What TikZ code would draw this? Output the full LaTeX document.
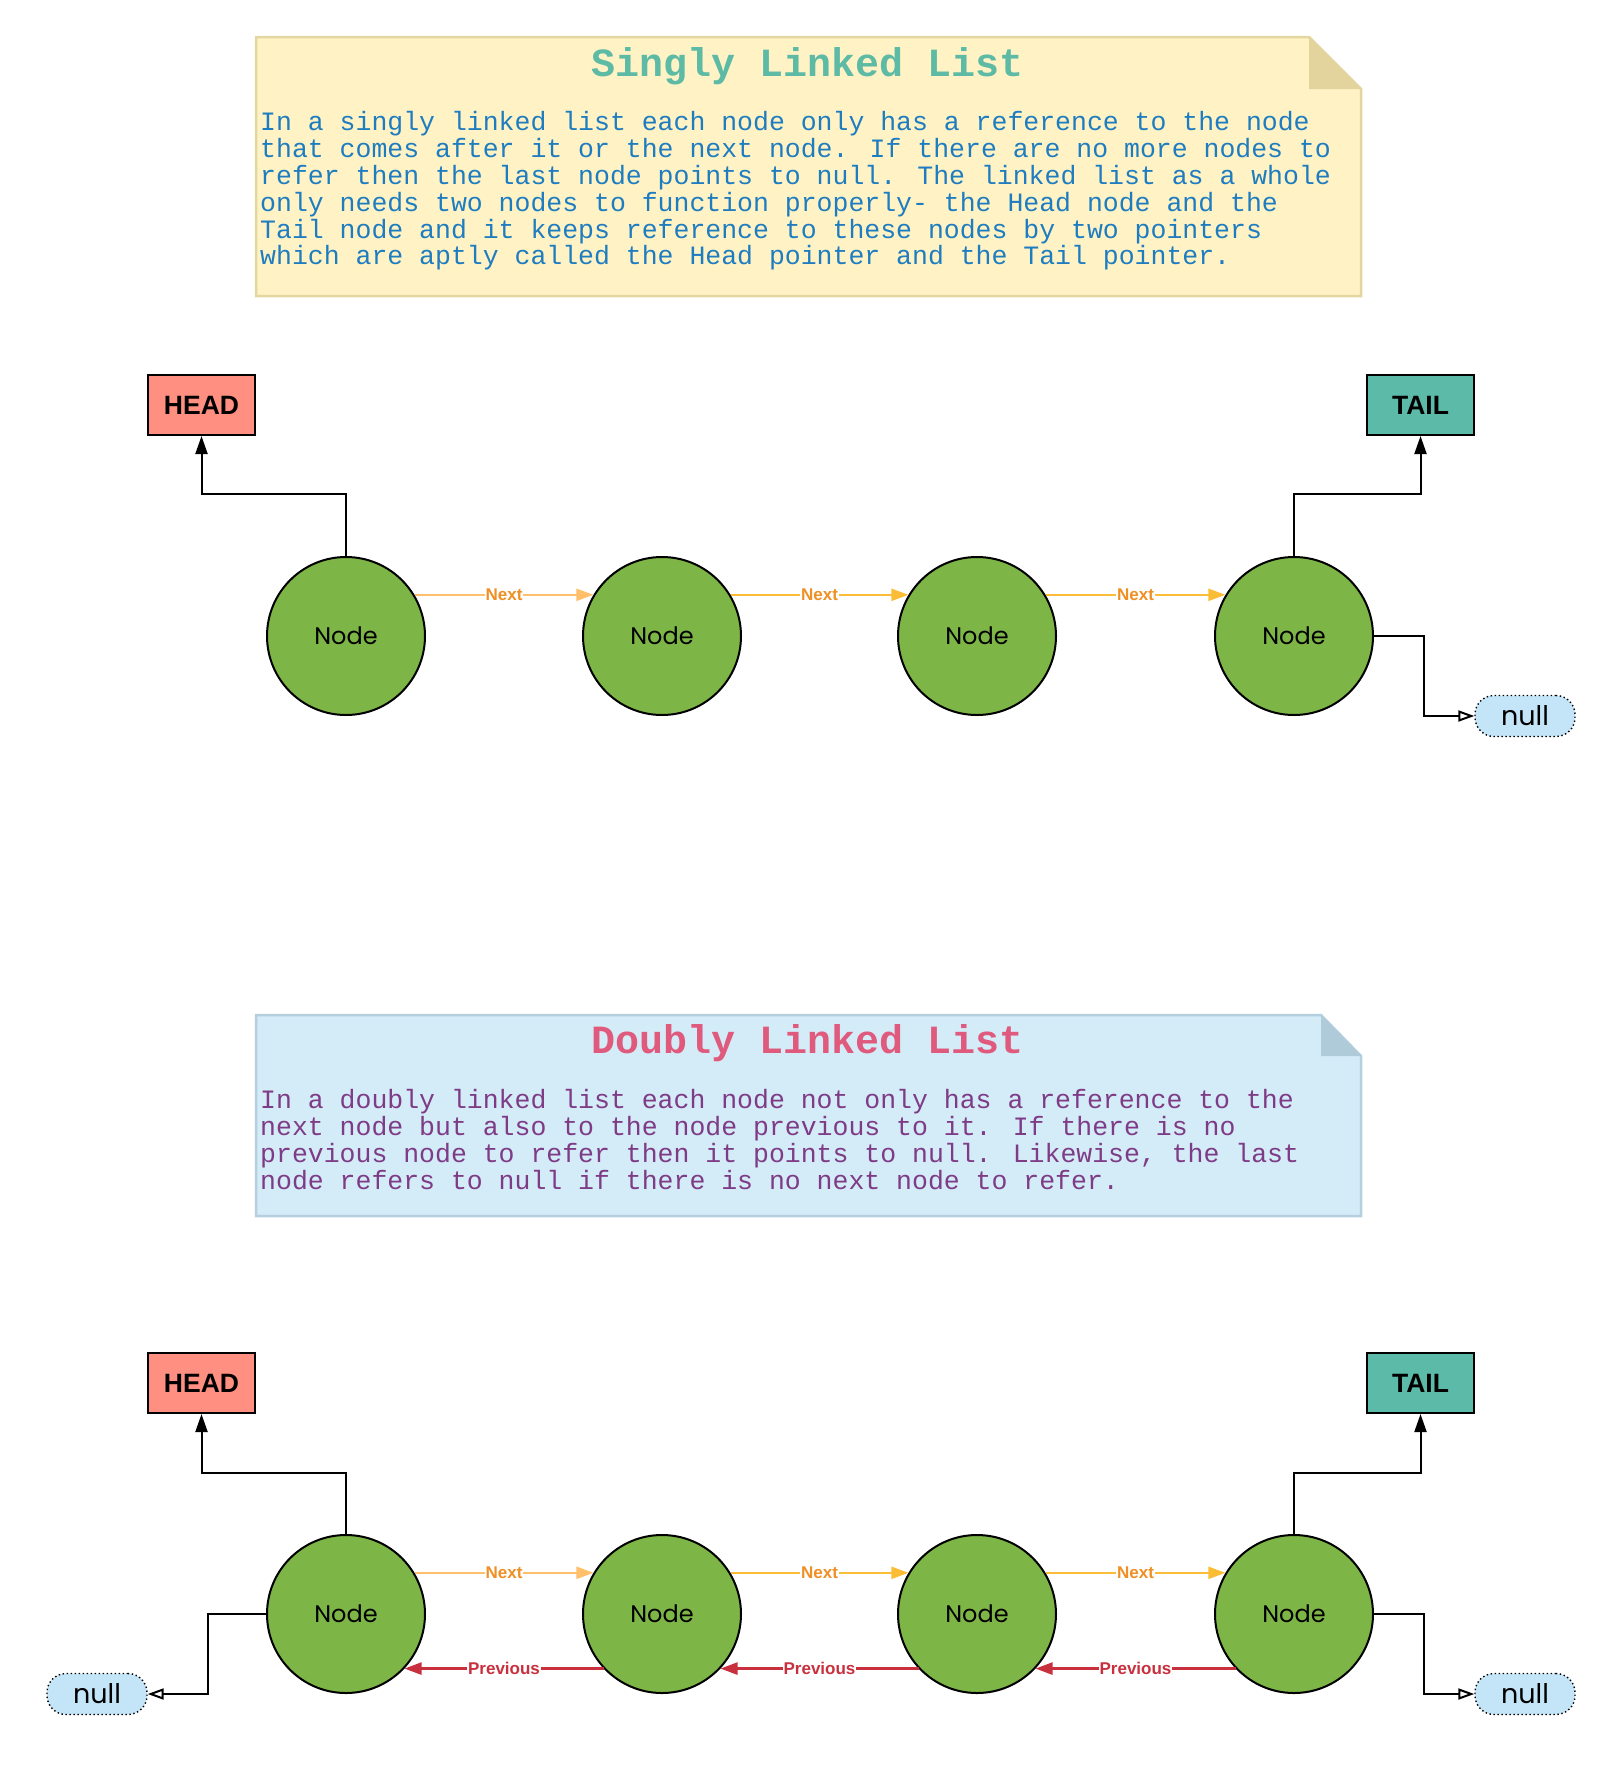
\documentclass[tikz,border=0pt]{standalone}
\usepackage{fontspec}
\setmainfont{Liberation Sans}
\newfontfamily\monof{Liberation Mono}
\newfontfamily\geof{Poppins}
\usetikzlibrary{arrows.meta}
\definecolor{noteyfill}{HTML}{FFF2C4}
\definecolor{noteyline}{HTML}{E3D6A0}
\definecolor{noteyfold}{HTML}{E2D49C}
\definecolor{notebfill}{HTML}{D4EBF8}
\definecolor{notebline}{HTML}{B4D0DE}
\definecolor{notebfold}{HTML}{AFCBD9}
\definecolor{titleone}{HTML}{5CBAA5}
\definecolor{bodyone}{HTML}{1E7DC0}
\definecolor{titletwo}{HTML}{E05A7E}
\definecolor{bodytwo}{HTML}{7E3B86}
\definecolor{headred}{HTML}{FF8F80}
\definecolor{tailteal}{HTML}{5CBAA8}
\definecolor{nodegreen}{HTML}{7DB647}
\definecolor{nullblue}{HTML}{C4E4F7}
\definecolor{nextpale}{HTML}{FFBF6B}
\definecolor{nextyel}{HTML}{FBBD35}
\definecolor{nextlbl}{HTML}{EF8F24}
\definecolor{prevred}{HTML}{C9303E}
\begin{document}
\begin{tikzpicture}[x=1pt,y=-1pt,
  lnode/.style={circle, draw=black, line width=2pt, fill=nodegreen, minimum size=158pt, inner sep=0pt, font=\geof\fontsize{24}{24}\selectfont},
  ptrbox/.style={draw=black, line width=2pt, minimum width=107pt, minimum height=60pt, inner sep=0pt, font=\bfseries\fontsize{26.5}{26.5}\selectfont},
  nullbox/.style={rounded corners=19pt, draw=black, dash pattern=on 1.4pt off 2.6pt, line width=1.4pt, fill=nullblue, minimum width=100pt, minimum height=41pt, inner sep=0pt, font=\geof\fontsize{27}{27}\selectfont},
  nextarr/.style={line width=2.2pt, -{Triangle[length=17pt,width=12pt]}},
  prevarr/.style={line width=2.4pt, draw=prevred, -{Triangle[length=17pt,width=12pt]}},
  lbl/.style={fill=white, inner sep=1pt, font=\bfseries\fontsize{17}{17}\selectfont},
  ptrarr/.style={line width=2pt, -{Triangle[length=18pt,width=12pt]}},
  nullarr/.style={line width=2pt, -{Triangle[open,length=16pt,width=11pt]}},
  titletext/.style={inner sep=0pt, font=\monof\bfseries\fontsize{40}{40}\selectfont},
  bodytext/.style={anchor=north west, inner sep=0pt, align=left, font=\monof\fontsize{26.5}{26.8}\selectfont}
]
\useasboundingbox (0,0) rectangle (1623,1767);

% ---------- Singly note ----------
\draw[fill=noteyfill, draw=noteyline, line width=2.5pt]
  (256,37) -- (1309,37) -- (1361,89) -- (1361,296) -- (256,296) -- cycle;
\fill[noteyfold] (1309,37) -- (1309,89) -- (1361,89) -- cycle;
\node[titletext, text=titleone] (t1) at (808,66.5) {Singly Linked List};
\node[bodytext, text=bodyone] (b1) at (260,111.5) {In a singly linked list each node only has a reference to the node\\that comes after it or the next node. If there are no more nodes to\\refer then the last node points to null. The linked list as a whole\\only needs two nodes to function properly- the Head node and the\\Tail node and it keeps reference to these nodes by two pointers\\which are aptly called the Head pointer and the Tail pointer.};

% ---------- Singly list ----------
\node[ptrbox, fill=headred] (sh) at (201.5,405) {HEAD};
\node[ptrbox, fill=tailteal] (st) at (1420.5,405) {TAIL};
\node[lnode] (s1) at (346,636) {Node};
\node[lnode] (s2) at (662,636) {Node};
\node[lnode] (s3) at (977,636) {Node};
\node[lnode] (s4) at (1294,636) {Node};
\node[nullbox] (sn) at (1525,716) {null};

\draw[ptrarr] (s1.north) -- ++(0,-62) -| (sh.south);
\draw[ptrarr] (s4.north) -- ++(0,-62) -| (st.south);
\draw[nextarr, draw=nextpale] (s1.31) -- node[lbl, text=nextlbl] {Next} (s2.149);
\draw[nextarr, draw=nextyel] (s2.31) -- node[lbl, text=nextlbl] {Next} (s3.149);
\draw[nextarr, draw=nextyel] (s3.31) -- node[lbl, text=nextlbl] {Next} (s4.149);
\draw[nullarr] (s4.east) -- ++(50,0) |- (sn.west);

% ---------- Doubly note ----------
\draw[fill=notebfill, draw=notebline, line width=2.5pt]
  (256,1015) -- (1321,1015) -- (1361,1056) -- (1361,1216) -- (256,1216) -- cycle;
\fill[notebfold] (1321,1015) -- (1321,1056) -- (1361,1056) -- cycle;
\node[titletext, text=titletwo] (t2) at (808,1043.5) {Doubly Linked List};
\node[bodytext, text=bodytwo] (b2) at (260,1089.5) {In a doubly linked list each node not only has a reference to the\\next node but also to the node previous to it. If there is no\\previous node to refer then it points to null. Likewise, the last\\node refers to null if there is no next node to refer.};

% ---------- Doubly list ----------
\node[ptrbox, fill=headred] (dh) at (201.5,1383) {HEAD};
\node[ptrbox, fill=tailteal] (dt) at (1420.5,1383) {TAIL};
\node[lnode] (d1) at (346,1614) {Node};
\node[lnode] (d2) at (662,1614) {Node};
\node[lnode] (d3) at (977,1614) {Node};
\node[lnode] (d4) at (1294,1614) {Node};
\node[nullbox] (dnl) at (97,1694) {null};
\node[nullbox] (dnr) at (1525,1694) {null};

\draw[ptrarr] (d1.north) -- ++(0,-61) -| (dh.south);
\draw[ptrarr] (d4.north) -- ++(0,-61) -| (dt.south);
\draw[nextarr, draw=nextpale] (d1.31) -- node[lbl, text=nextlbl] {Next} (d2.149);
\draw[nextarr, draw=nextyel] (d2.31) -- node[lbl, text=nextlbl] {Next} (d3.149);
\draw[nextarr, draw=nextyel] (d3.31) -- node[lbl, text=nextlbl] {Next} (d4.149);
\draw[prevarr] (d2.223) -- node[lbl, text=prevred] {Previous} (d1.317);
\draw[prevarr] (d3.223) -- node[lbl, text=prevred] {Previous} (d2.317);
\draw[prevarr] (d4.223) -- node[lbl, text=prevred] {Previous} (d3.317);
\draw[nullarr] (d4.east) -- ++(50,0) |- (dnr.west);
\draw[nullarr] (d1.west) -- ++(-58,0) |- (dnl.east);
\end{tikzpicture}
\end{document}
